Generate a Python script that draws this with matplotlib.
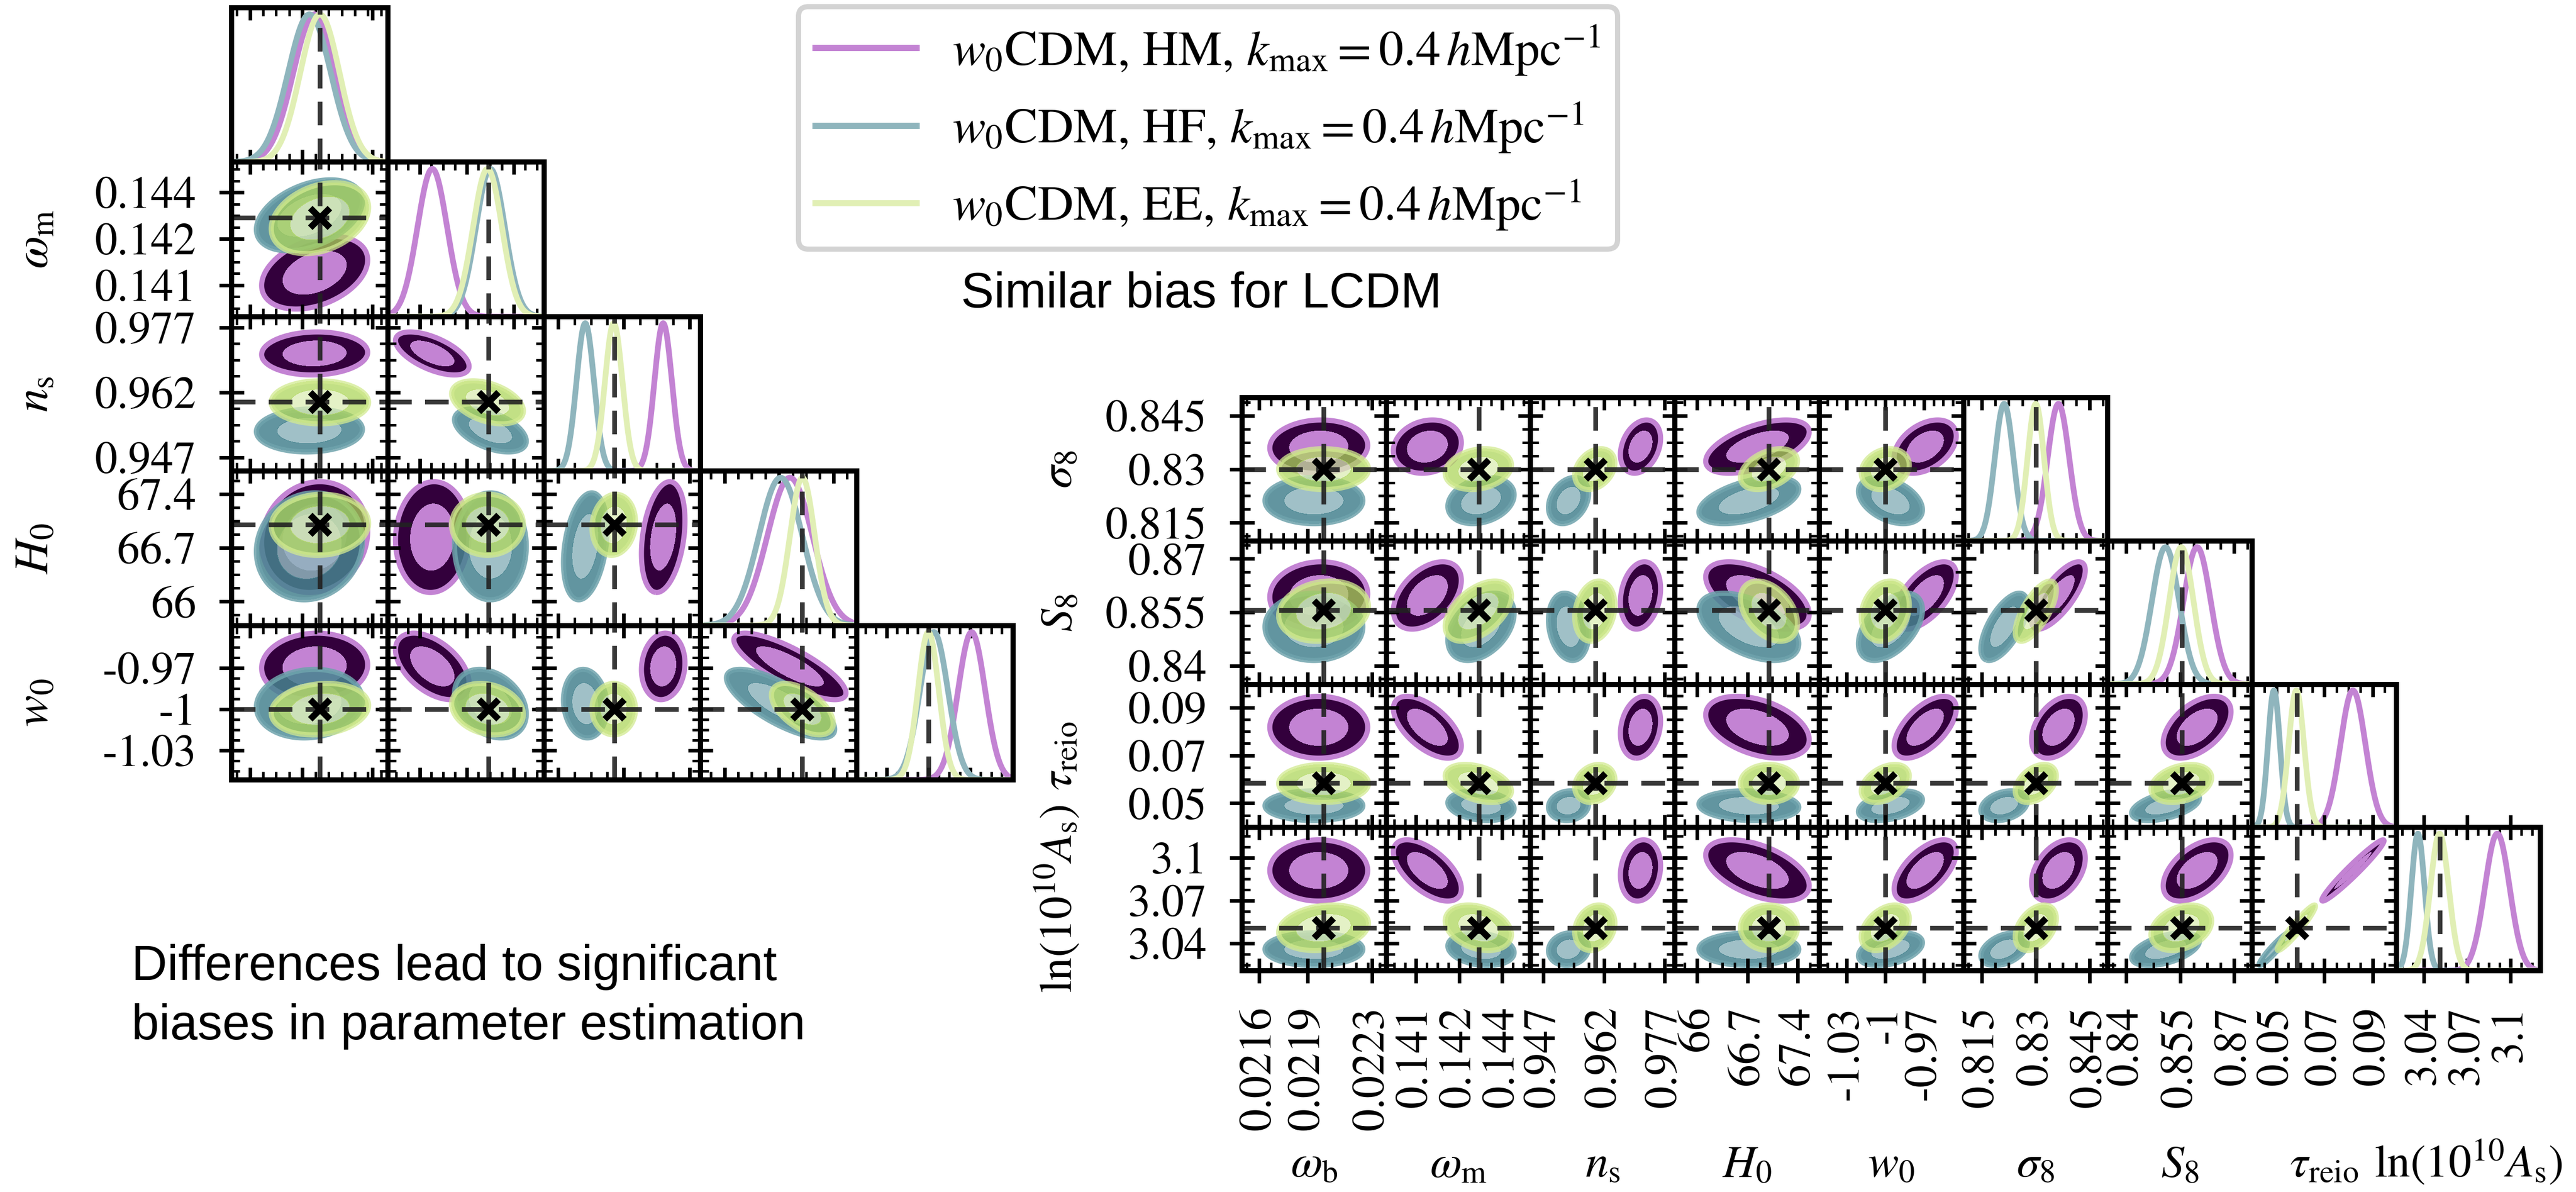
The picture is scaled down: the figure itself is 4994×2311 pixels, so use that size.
import numpy as np
import matplotlib.pyplot as plt
from matplotlib.ticker import FixedLocator, NullLocator

plt.rcParams['font.family'] = 'STIXGeneral'
plt.rcParams['mathtext.fontset'] = 'stix'

W, H, DPI = 4994, 2311, 200

# parameter order: omega_b, omega_m, n_s, H0, w0, sigma8, S8, tau_reio, ln(10^10 A_s)
names = [r'$\omega_{\rm b}$', r'$\omega_{\rm m}$', r'$n_{\rm s}$', r'$H_0$', r'$w_0$',
         r'$\sigma_8$', r'$S_8$', r'$\tau_{\rm reio}$', r'$\ln(10^{10}A_{\rm s})$']
lo = [0.021495, 0.14022, 0.94382, 65.69, -1.0513, 0.8099, 0.8348, 0.0399, 3.0205]
hi = [0.022389, 0.14455, 0.97952, 67.70, -0.9393, 0.8500, 0.8750, 0.0998, 3.1205]
ticks = [[0.0216, 0.0219, 0.0223], [0.1411, 0.1424, 0.1437], [0.947, 0.962, 0.977],
         [66.0, 66.7, 67.4], [-1.03, -1.0, -0.97], [0.815, 0.83, 0.845],
         [0.84, 0.855, 0.87], [0.05, 0.07, 0.09], [3.0395, 3.0695, 3.0995]]
tick_labels = [['0.0216', '0.0219', '0.0223'], ['0.141', '0.142', '0.144'],
               ['0.947', '0.962', '0.977'], ['66', '66.7', '67.4'],
               ['-1.03', '-1', '-0.97'], ['0.815', '0.83', '0.845'],
               ['0.84', '0.855', '0.87'], ['0.05', '0.07', '0.09'],
               ['3.04', '3.07', '3.1']]
fiducial = [0.0220, 0.1430, 0.9598, 67.0, -1.0, 0.830, 0.8555, 0.0585, 3.0505]

model_labels = [r'$w_0$CDM, HM, $k_{\rm max} = 0.4\,h{\rm Mpc}^{-1}$',
                r'$w_0$CDM, HF, $k_{\rm max} = 0.4\,h{\rm Mpc}^{-1}$',
                r'$w_0$CDM, EE, $k_{\rm max} = 0.4\,h{\rm Mpc}^{-1}$']

# posterior means and widths
mean_hm = [0.02197, 0.14145, 0.9710, 66.84, -0.969, 0.8363, 0.8597, 0.0818, 3.0905]
mean_hf = [0.02194, 0.14306, 0.9532, 66.72, -0.996, 0.8212, 0.8509, 0.0490, 3.0355]
mean_ee = [0.02200, 0.14298, 0.9597, 67.00, -1.000, 0.8300, 0.8553, 0.0583, 3.0505]
sig_hm = [0.000122, 0.00041, 0.0020, 0.29, 0.0097, 0.0030, 0.0038, 0.0052, 0.0086]
sig_hf = [0.000122, 0.00040, 0.0020, 0.28, 0.0100, 0.0026, 0.0038, 0.0025, 0.0046]
sig_ee = [0.000112, 0.00040, 0.0020, 0.16, 0.0075, 0.0023, 0.0034, 0.0032, 0.0064]

# correlation coefficients, row i lists rho(i, j) for j < i
rho_hm = [[],
          [0.35],
          [0.05, -0.6],
          [0.1, 0.05, 0.3],
          [0.05, -0.5, 0.1, -0.8],
          [0.05, 0.15, 0.3, 0.55, 0.4],
          [0.05, 0.45, 0.2, -0.55, 0.6, 0.75],
          [0.0, -0.6, 0.2, -0.4, 0.6, 0.4, 0.5],
          [0.0, -0.6, 0.15, -0.5, 0.6, 0.4, 0.5, 0.97]]
rho_hf = [[],
          [0.4],
          [0.05, -0.5],
          [0.1, 0.0, 0.3],
          [0.1, -0.3, -0.1, -0.75],
          [0.0, 0.25, 0.3, 0.5, -0.4],
          [0.0, 0.4, -0.2, -0.5, 0.5, 0.65],
          [0.0, -0.2, 0.1, -0.1, 0.4, 0.3, 0.5],
          [0.0, -0.2, 0.1, 0.0, 0.4, 0.4, 0.5, 0.95]]
rho_ee = [[],
          [0.3],
          [0.0, -0.4],
          [0.05, 0.0, 0.1],
          [0.15, -0.2, 0.0, -0.55],
          [0.0, 0.2, 0.3, 0.4, 0.2],
          [0.15, 0.5, 0.2, -0.4, 0.2, 0.7],
          [0.0, -0.4, 0.2, 0.0, 0.4, 0.4, 0.3],
          [0.2, -0.3, 0.2, 0.0, 0.4, 0.4, 0.3, 0.95]]

means = [mean_hm, mean_hf, mean_ee]
sigmas = [sig_hm, sig_hf, sig_ee]
rhos = [rho_hm, rho_hf, rho_ee]

line_colors = ['#c383d3', '#8fb5bd', '#e1efb5']
inner_colors = ['#c383d3', '#8fb5bd', '#dcedb4']
band_colors = ['#33003c', '#46838f', '#aed65c']
edge_colors = ['#c383d3', '#6ea3ac', '#d2ea90']
fill_alpha = [1.0, 0.85, 0.75]

CHI2_68, CHI2_95 = 2.30, 6.18

fig = plt.figure(figsize=(W / DPI, H / DPI), dpi=DPI)


def px_axes(x, y, w, h):
    return fig.add_axes([x / W, 1 - (y + h) / H, w / W, h / H])


def minor_ticks(p):
    step = (ticks[p][1] - ticks[p][0]) / 4
    m = ticks[p][0] + step * np.arange(-40, 41)
    m = m[(m > lo[p]) & (m < hi[p])]
    keep = [v for v in m if min(abs(v - t) for t in ticks[p]) > step * 0.3]
    return keep


def setup(ax, px, py, label_x=False, label_y=False, out_x=False, out_y=False):
    ax.set_xlim(lo[px], hi[px])
    ax.set_xticks(ticks[px], tick_labels[px])
    ax.xaxis.set_minor_locator(FixedLocator(minor_ticks(px)))
    if py is None:
        ax.yaxis.set_major_locator(NullLocator())
        ax.yaxis.set_minor_locator(NullLocator())
    else:
        ax.set_ylim(lo[py], hi[py])
        ax.set_yticks(ticks[py], tick_labels[py])
        ax.yaxis.set_minor_locator(FixedLocator(minor_ticks(py)))
    ax.tick_params(which='both', direction='in', top=True, right=True,
                   labelbottom=label_x, labelleft=label_y, labelsize=31.5, pad=16)
    ax.tick_params(which='major', length=8.6, width=2.5)
    ax.tick_params(which='minor', length=5.8, width=1.8)
    if out_x:
        ax.tick_params(axis='x', which='major', direction='inout', length=17.3)
    if label_x:
        ax.tick_params(axis='x', labelrotation=90)
    if out_y:
        ax.tick_params(axis='y', which='major', direction='inout', length=17.3)
    for sp in ax.spines.values():
        sp.set_linewidth(3.6)
        sp.set_zorder(6)


def fid_line(ax, v, vertical=True):
    kw = dict(color='#222222', lw=3.3, ls=(0, (5, 2.8)), alpha=0.9, zorder=4)
    if vertical:
        ax.axvline(v, **kw)
    else:
        ax.axhline(v, **kw)


def draw_1d(ax, p):
    x = np.linspace(lo[p], hi[p], 500)
    lines = []
    for k in range(3):
        y = np.exp(-0.5 * ((x - means[k][p]) / sigmas[k][p]) ** 2)
        ln, = ax.plot(x, y, color=line_colors[k], lw=4, label=model_labels[k],
                      zorder=2 + 0.1 * k)
        lines.append(ln)
    fid_line(ax, fiducial[p])
    ax.set_ylim(0, 1.045)
    return lines


def draw_2d(ax, px, py):
    xs = np.linspace(lo[px], hi[px], 220)
    ys = np.linspace(lo[py], hi[py], 220)
    X, Y = np.meshgrid(xs, ys)
    for k in range(3):
        r = rhos[k][py][px]
        dx = (X - means[k][px]) / sigmas[k][px]
        dy = (Y - means[k][py]) / sigmas[k][py]
        chi2 = (dx ** 2 - 2 * r * dx * dy + dy ** 2) / (1 - r ** 2)
        z = 1 + 0.2 * k
        ax.contourf(X, Y, chi2, levels=[0, CHI2_68, CHI2_95],
                    colors=[inner_colors[k], band_colors[k]],
                    alpha=fill_alpha[k], zorder=z)
        ax.contour(X, Y, chi2, levels=[CHI2_95], colors=[edge_colors[k]],
                   linewidths=3.6, alpha=fill_alpha[k], zorder=z + 0.1)
    fid_line(ax, fiducial[px])
    fid_line(ax, fiducial[py], vertical=False)
    ax.plot(fiducial[px], fiducial[py], 'x', color='k', ms=14, mew=4.5, zorder=5)


# left triangle: first five parameters
LX, LY, LW, LH = 449, 15, 303, 299.4
legend_lines = None
for r in range(5):
    for c in range(r + 1):
        ax = px_axes(LX + c * LW, LY + r * LH, LW, LH)
        if c == r:
            ln = draw_1d(ax, r)
            if legend_lines is None:
                legend_lines = ln
            setup(ax, c, None)
        else:
            draw_2d(ax, c, r)
            setup(ax, c, r, label_y=(c == 0), out_y=(c == 0))
    if r > 0:
        fig.text(112 / W, 1 - (LY + (r + 0.5) * LH) / H, names[r], rotation=90,
                 ha='right', va='center', fontsize=33)

# right triangle: sigma8, S8, tau_reio and ln(10^10 A_s) rows
RX, RY, RW, RH = 2408, 771, 279.7, 277.75
for r in range(4):
    p = 5 + r
    bottom = (r == 3)
    for c in range(p + 1):
        ax = px_axes(RX + c * RW, RY + r * RH, RW, RH)
        if c == p:
            draw_1d(ax, p)
            setup(ax, c, None, label_x=bottom, out_x=bottom)
        else:
            draw_2d(ax, c, p)
            setup(ax, c, p, label_x=bottom, label_y=(c == 0),
                  out_x=bottom, out_y=(c == 0))
    fig.text(2097 / W, 1 - (RY + (r + 0.5) * RH) / H, names[p], rotation=90,
             ha='right', va='center', fontsize=32)

for c in range(9):
    fig.text((RX + (c + 0.5) * RW) / W, 1 - 2282 / H, names[c],
             ha='center', va='baseline', fontsize=32)

leg = fig.legend(handles=legend_lines, loc='upper left',
                 bbox_to_anchor=(1548 / W, 1 - 13 / H), borderaxespad=0,
                 fontsize=34.5, frameon=True, fancybox=True, framealpha=1,
                 edgecolor='#d3d3d3', borderpad=0.34, handlelength=2.05,
                 handletextpad=0.72, labelspacing=0.48)
leg.get_frame().set_linewidth(3.6)
for h in leg.get_lines():
    h.set_linewidth(4.3)

sans = ['Liberation Sans', 'DejaVu Sans']
fig.text(1863 / W, 1 - 596 / H, 'Similar bias for LCDM', family=sans,
         fontsize=34.5, ha='left', va='baseline')
fig.text(255 / W, 1 - 1900 / H, 'Differences lead to significant', family=sans,
         fontsize=34.5, ha='left', va='baseline')
fig.text(255 / W, 1 - 2015 / H, 'biases in parameter estimation', family=sans,
         fontsize=34.5, ha='left', va='baseline')

fig.savefig('out.png', dpi=DPI)
